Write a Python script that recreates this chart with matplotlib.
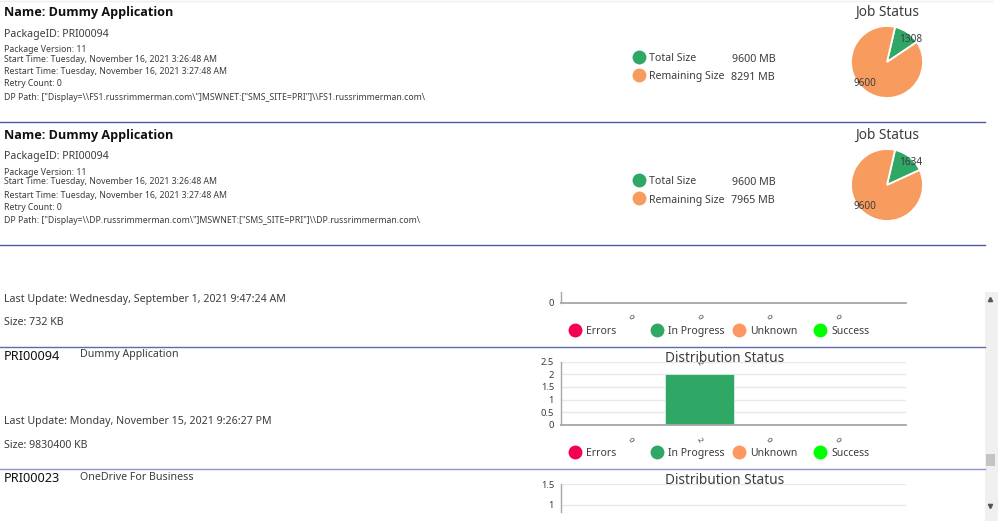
import matplotlib
matplotlib.use('Agg')
import matplotlib.pyplot as plt

plt.rcParams['font.family'] = ['Noto Sans', 'DejaVu Sans']

W, H = 998, 521

GREEN = '#2fa866'
ORANGE = '#f79c5e'
RED = '#f50057'
LIME = '#00ff00'
UNKNOWN = '#fd9660'
TXT = '#3c3c3c'
LINE = '#4a5aa6'
VA = 'center_baseline'

# job panels
job_hosts = ['FS1', 'DP']
job_remaining = ['8291 MB', '7965 MB']
job_pie_done = [1308, 1634]
job_pie_total = [9600, 9600]

# distribution panels
dist_cats = ['Errors', 'In Progress', 'Unknown', 'Success']
dist_colors = [RED, GREEN, UNKNOWN, LIME]
dist_values_a = [0, 0, 0, 0]
dist_values_b = [0, 2, 0, 0]
dist_ticks_b = [0, 0.5, 1, 1.5, 2, 2.5]
dist_ticks_c = [1, 1.5]


def px_axes(fig, x0, y0, x1, y1, **kw):
    # pixel box, y from the top
    return fig.add_axes([x0 / W, 1 - y1 / H, (x1 - x0) / W, (y1 - y0) / H], **kw)


def dist_chart(fig, y0, y1, values, ylim, ticks, xlabels=True):
    ax = px_axes(fig, 561, y0, 906, y1)
    ax.patch.set_alpha(0)
    ax.bar(range(1, 5), values, width=1, color=dist_colors, edgecolor='#d8efe2', linewidth=0.6)
    ax.set_xlim(0, 5)
    ax.set_ylim(*ylim)
    ax.set_yticks(ticks, [f'{t:g}' for t in ticks])
    ax.tick_params(axis='y', length=0, labelsize=6.8, labelcolor=TXT, pad=5)
    ax.tick_params(axis='x', length=0)
    ax.grid(axis='y', color='#e8e8e8', linewidth=1)
    ax.set_axisbelow(True)
    for s in ['top', 'right']:
        ax.spines[s].set_visible(False)
    ax.spines['left'].set_color('#a6a6a6')
    ax.spines['bottom'].set_color('#a6a6a6')
    ax.spines['left'].set_linewidth(1)
    ax.spines['bottom'].set_linewidth(1.3)
    ax.set_xticks(range(1, 5))
    if xlabels:
        ax.set_xticklabels([str(v) for v in values], rotation=-60, fontsize=5.5, color=TXT)
        ax.tick_params(axis='x', pad=8)
    else:
        ax.set_xticklabels([])
        ax.spines['bottom'].set_visible(False)
    return ax


fig = plt.figure(figsize=(W / 100, H / 100), dpi=100, facecolor='white')

bg = fig.add_axes([0, 0, 1, 1])
bg.set_xlim(0, W)
bg.set_ylim(H, 0)
bg.axis('off')

# scrollbar
bg.fill_between([985, 998], 292, 521, color='#f0f0f0', lw=0)
bg.fill_between([986, 995], 454, 466, color='#c4c4c4', lw=0)
bg.plot([990.5], [299], marker='^', ms=3, color='#555555')
bg.plot([990.5], [505.5], marker='v', ms=3, color='#555555')

# separators
for y, c in [(122, LINE), (245, LINE), (346.5, '#5f6aa8'), (468.5, '#8d96c4')]:
    bg.plot([0, 985], [y, y], color=c, lw=1)
bg.plot([0, 992], [0.5, 0.5], color='#efefef', lw=1)

# job panels
for i, host in enumerate(job_hosts):
    dy = i * 123
    bg.text(4, 11 + dy, 'Name: Dummy Application', fontsize=9.1, fontweight='bold', family='Open Sans',
            color='#111111', va=VA)
    bg.text(4, 32.5 + dy, 'PackageID: PRI00094', fontsize=7.6, color=TXT, va=VA)
    bg.text(4, 48.5 + dy, 'Package Version: 11', fontsize=6.25, color=TXT, va=VA)
    bg.text(4, 58 + dy, 'Start Time: Tuesday, November 16, 2021 3:26:48 AM', fontsize=6.25, color=TXT, va=VA)
    bg.text(4, 71 + dy, 'Restart Time: Tuesday, November 16, 2021 3:27:48 AM', fontsize=6.25, color=TXT, va=VA)
    bg.text(4, 83 + dy, 'Retry Count: 0', fontsize=6.25, color=TXT, va=VA)
    bg.text(4, 96.5 + dy, f'DP Path: ["Display=\\\\{host}.russrimmerman.com\\"]MSWNET:["SMS_SITE=PRI"]\\\\{host}.russrimmerman.com\\',
            fontsize=6.25, color=TXT, va=VA)

    bg.plot([639], [56.5 + dy], marker='o', ms=10, color=GREEN, mew=0)
    bg.plot([639], [75 + dy], marker='o', ms=10, color=ORANGE, mew=0)
    bg.text(649, 57 + dy, 'Total Size', fontsize=7.6, color=TXT, va=VA)
    bg.text(649, 75.5 + dy, 'Remaining Size', fontsize=7.6, color=TXT, va=VA)
    bg.text(732.5, 58 + dy, '9600 MB', fontsize=7.7, color=TXT, va=VA)
    bg.text(731, 76 + dy, job_remaining[i], fontsize=7.7, color=TXT, va=VA)
    bg.text(887, 10.5 + dy, 'Job Status', fontsize=9.8, color=TXT, va=VA, ha='center')

    ax = px_axes(fig, 851, 26 + dy, 923, 98 + dy)
    ax.pie([job_pie_done[i], job_pie_total[i]], colors=[GREEN, ORANGE],
           startangle=77, counterclock=False, radius=1,
           wedgeprops={'edgecolor': 'white', 'linewidth': 1.3})
    ax.set_xlim(-1, 1)
    ax.set_ylim(-1, 1)
    ax.text(0.645, 0.63, str(job_pie_done[i]), fontsize=7.2, color=TXT, ha='center', va='center', clip_on=False)
    ax.text(-0.62, -0.61, str(job_pie_total[i]), fontsize=7.2, color=TXT, ha='center', va='center', clip_on=False)

# distribution panels, left side
bg.text(4, 298, 'Last Update: Wednesday, September 1, 2021 9:47:24 AM', fontsize=7.65, color=TXT, va=VA)
bg.text(4, 321, 'Size: 732 KB', fontsize=7.65, color=TXT, va=VA)
bg.text(4, 355, 'PRI00094', fontsize=9.2, color='#111111', va=VA)
bg.text(80, 353, 'Dummy Application', fontsize=7.65, color=TXT, va=VA)
bg.text(4, 420, 'Last Update: Monday, November 15, 2021 9:26:27 PM', fontsize=7.65, color=TXT, va=VA)
bg.text(4, 444, 'Size: 9830400 KB', fontsize=7.65, color=TXT, va=VA)
bg.text(4, 477, 'PRI00023', fontsize=9.2, color='#111111', va=VA)
bg.text(80, 476, 'OneDrive For Business', fontsize=7.65, color=TXT, va=VA)

# distribution legends
for y in [330, 452]:
    for x, name, c in zip([575, 657, 739, 820], dist_cats, dist_colors):
        bg.plot([x], [y], marker='o', ms=10, color=c, mew=0)
        bg.text(x + 11.5, y, name, fontsize=7.5, color=TXT, va=VA)

bg.text(724.5, 356.5, 'Distribution Status', fontsize=9.8, color=TXT, va=VA, ha='center')
bg.text(724.5, 478.5, 'Distribution Status', fontsize=9.8, color=TXT, va=VA, ha='center')

dist_chart(fig, 292, 302.5, dist_values_a, (0, 1), [0])
ax_b = dist_chart(fig, 361.5, 425, dist_values_b, (0, 2.5), dist_ticks_b)
ax_b.text(2, 2.44, '2', rotation=-60, fontsize=5.5, color=TXT, ha='center', va='center', clip_on=False)
dist_chart(fig, 484, 512, [0, 0, 0, 0], (0.833, 1.5), dist_ticks_c, xlabels=False)

fig.savefig('out.png', dpi=100)
